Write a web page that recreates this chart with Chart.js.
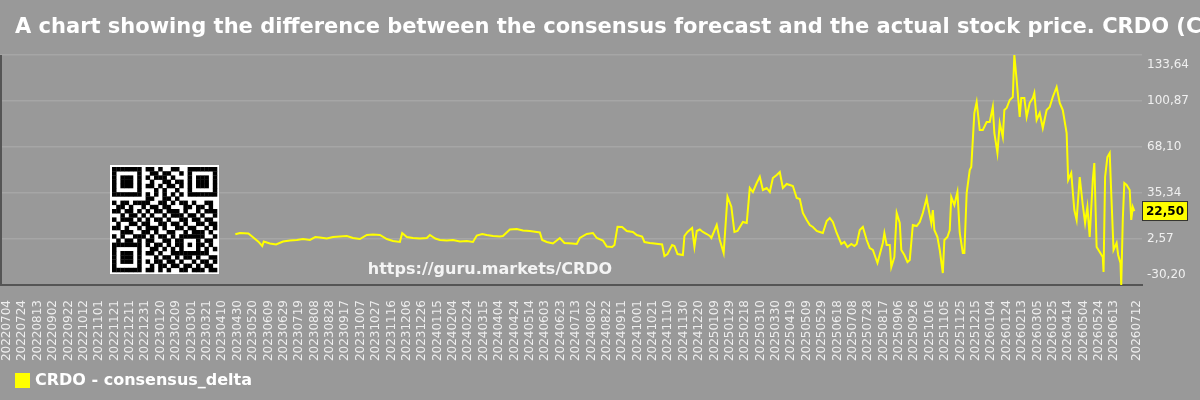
<!DOCTYPE html>
<html lang="en">
<head>
<meta charset="UTF-8">
<title>CRDO - consensus_delta</title>
<script src="https://cdn.jsdelivr.net/npm/chart.js@4.4.3/dist/chart.umd.min.js"></script>
<style>
  * { margin: 0; padding: 0; }
  body { background: #999999; width: 1200px; height: 400px; overflow: hidden; }
  #wrap { width: 1200px; height: 400px; }
</style>
</head>
<body>
<div id="wrap"><canvas id="chart" width="1200" height="400"></canvas></div>
<script>
const TITLE = 'A chart showing the difference between the consensus forecast and the actual stock price. CRDO (Credo Technology Group Holding Ltd)';
const SERIES_NAME = 'CRDO - consensus_delta';
const WATERMARK = 'https://guru.markets/CRDO';
const FONT = "'DejaVu Sans', sans-serif";

// x axis: days counted from the first tick date
const baseDate = '20220704';
const tickDates = [
  '20220704', '20220724', '20220813', '20220902', '20220922', '20221012', '20221101', '20221121',
  '20221211', '20221231', '20230120', '20230209', '20230301', '20230321', '20230410', '20230430',
  '20230520', '20230609', '20230629', '20230719', '20230808', '20230828', '20230917', '20231007',
  '20231027', '20231116', '20231206', '20231226', '20240115', '20240204', '20240224', '20240315',
  '20240404', '20240424', '20240514', '20240603', '20240623', '20240713', '20240802', '20240822',
  '20240911', '20241001', '20241021', '20241110', '20241130', '20241220', '20250109', '20250129',
  '20250218', '20250310', '20250330', '20250419', '20250509', '20250529', '20250618', '20250708',
  '20250728', '20250817', '20250906', '20250926', '20251016', '20251105', '20251125', '20251215',
  '20260104', '20260124', '20260213', '20260305', '20260325', '20260414', '20260504', '20260524',
  '20260613', '20260712'
];

const pointDays = [
  297, 303, 314, 320, 327, 332, 334, 342, 350, 359, 368, 377, 385, 394, 401, 407, 416, 424, 433, 442,
  450, 459, 468, 476, 485, 494, 502, 511, 514, 520, 528, 537, 546, 550, 557, 563, 572, 580, 589, 598,
  606, 611, 618, 624, 632, 641, 645, 654, 663, 671, 680, 689, 693, 696, 702, 710, 719, 725, 735, 741,
  745, 754, 762, 767, 775, 780, 787, 790, 794, 800, 806, 814, 819, 826, 829, 836, 842, 852, 855, 859,
  865, 868, 872, 879, 881, 885, 891, 894, 897, 901, 905, 910, 914, 916, 923, 927, 932, 937, 942, 946,
  950, 957, 962, 966, 970, 975, 979, 983, 988, 992, 996, 1001, 1005, 1009, 1014, 1018, 1022, 1027, 1031, 1035,
  1040, 1044, 1048, 1053, 1057, 1061, 1066, 1070, 1074, 1079, 1085, 1089, 1093, 1098, 1102, 1105, 1109, 1113, 1118, 1122,
  1126, 1132, 1139, 1141, 1144, 1148, 1150, 1154, 1157, 1161, 1163, 1167, 1171, 1174, 1178, 1183, 1187, 1191, 1196, 1197,
  1202, 1204, 1206, 1210, 1213, 1217, 1219, 1223, 1226, 1228, 1232, 1236, 1239, 1243, 1245, 1248, 1252, 1254, 1258, 1261,
  1265, 1269, 1274, 1278, 1282, 1284, 1288, 1291, 1295, 1297, 1300, 1304, 1308, 1310, 1313, 1317, 1319, 1323, 1326, 1330,
  1334, 1336, 1339, 1343, 1347, 1352, 1356, 1360, 1365, 1369, 1373, 1378, 1380, 1384, 1388, 1391, 1395, 1399, 1402, 1405,
  1408, 1412, 1414, 1417, 1421, 1425, 1426, 1428, 1431, 1434, 1436, 1439, 1443, 1445, 1448, 1449, 1451, 1453, 1456, 1460,
  1462, 1464, 1466
];

const deltaValues = [
  5.92, 6.84, 6.49, 3.78, 0.64, -2.42, 0.79, -0.64, -1.35, 0.79, 1.50, 1.86, 2.57, 1.86, 3.99, 3.64, 2.92, 3.99, 4.35, 4.70,
  3.28, 2.57, 5.42, 5.77, 5.42, 2.57, 1.14, 0.43, 6.84, 3.99, 3.28, 2.92, 3.28, 5.42, 2.92, 1.86, 1.50, 1.86, 0.79, 1.14,
  0.43, 5.06, 6.13, 5.42, 4.70, 4.35, 4.70, 9.33, 9.69, 8.62, 8.27, 7.55, 7.20, 1.86, 0.43, -0.64, 3.28, -0.28, -0.64, -0.99,
  3.28, 6.13, 6.84, 3.28, 1.50, -2.78, -3.13, -1.71, 11.33, 11.12, 8.27, 7.55, 5.42, 4.35, 0.43, -0.28, -0.64, -1.35, -9.54, -8.12,
  -1.71, -2.42, -8.12, -8.83, 4.70, 7.55, 10.40, -2.92, 8.27, 9.33, 7.55, 6.13, 4.70, 3.28, 12.54, 1.86, -7.41, 32.70, 25.58, 7.55,
  8.27, 14.68, 13.97, 38.90, 36.05, 42.46, 46.95, 37.47, 38.90, 36.05, 46.02, 48.16, 50.30, 38.90, 41.75, 41.03, 40.32, 31.77, 31.06, 21.09,
  16.10, 12.54, 11.12, 8.27, 7.55, 6.84, 15.39, 17.53, 14.68, 6.84, -0.99, 0.43, -3.13, -0.99, -2.42, -0.99, 8.98, 11.12, 1.86, -3.84,
  -5.27, -14.53, -0.28, 6.84, -1.71, -1.71, -17.38, -10.25, 21.09, 13.97, -5.27, -8.83, -13.82, -12.39, 12.54, 11.83, 14.68, 21.09, 31.77, 28.21,
  13.97, 23.23, 8.98, 3.99, -5.27, -21.65, 1.86, 3.99, 8.98, 32.49, 26.79, 36.05, 6.84, -7.41, -7.41, 35.34, 51.72, 53.86, 92.32, 100.16,
  80.21, 80.21, 85.91, 85.91, 96.60, 78.08, 63.83, 85.20, 75.23, 94.46, 95.89, 101.58, 103.72, 133.64, 115.83, 89.47, 103.01, 103.01, 89.47, 99.45,
  103.01, 106.57, 87.34, 92.32, 81.64, 94.46, 96.60, 103.72, 110.84, 99.45, 94.46, 78.08, 44.60, 49.58, 23.23, 16.10, 46.73, 26.79, 13.97, 25.36,
  3.99, 44.60, 56.71, -3.13, -6.69, -10.25, -20.94, 46.73, 60.98, 63.83, 35.34, -5.27, -0.28, -8.83, -14.53, -30.20, 16.10, 42.46, 41.03, 37.47,
  16.10, 25.36, 22.50
];

const yMin = -30.20;
const yMax = 133.64;
const yTickCount = 6;

function dayOf(s) {
  const t = Date.UTC(+s.slice(0, 4), +s.slice(4, 6) - 1, +s.slice(6, 8));
  const b = Date.UTC(+baseDate.slice(0, 4), +baseDate.slice(4, 6) - 1, +baseDate.slice(6, 8));
  return Math.round((t - b) / 86400000);
}
const labelByDay = {};
tickDates.forEach(d => { labelByDay[dayOf(d)] = d; });

function fmtComma(v) {
  return v.toFixed(2).replace('.', ',');
}

// little QR-like badge (decoration only)
const qrRows = [
  '1111111011010011001111111',
  '1000001001101100101000001',
  '1011101010111010001011101',
  '1011101001001101101011101',
  '1011101011010110101011101',
  '1000001000101001001000001',
  '1111111010101010101111111',
  '0000000011001101000000000',
  '1011011110011010110100110',
  '0110100101101100011011010',
  '1101101010110111010010111',
  '0010110101001011101101001',
  '1011101010110100110110110',
  '0100110110011011010011011',
  '1101001011101001101100101',
  '0011100110100110010111010',
  '1010011101011010111111001',
  '0101101011001101100010110',
  '1111111010110101101011010',
  '1000001001101010100010101',
  '1011101011010011111111100',
  '1011101000101101011010011',
  '1011101010110110100101101',
  '1000001001011011011010110',
  '1111111011010100110111011'
];

const decorPlugin = {
  id: 'decor',
  beforeDraw(chart) {
    const ctx = chart.ctx;
    ctx.save();
    ctx.fillStyle = '#999999';
    ctx.fillRect(0, 0, chart.width, chart.height);
    ctx.fillStyle = '#ffffff';
    ctx.font = 'bold 21px ' + FONT;
    ctx.textBaseline = 'alphabetic';
    ctx.textAlign = 'left';
    ctx.fillText(TITLE, 15, 33);
    ctx.restore();
  },
  beforeDatasetsDraw(chart) {
    const ctx = chart.ctx;
    const a = chart.chartArea;
    ctx.save();
    // qr badge
    ctx.fillStyle = '#ffffff';
    ctx.fillRect(110, 165, 109, 109);
    ctx.fillStyle = '#000000';
    const m = 4.2;
    qrRows.forEach((row, r) => {
      for (let c = 0; c < row.length; c++) {
        if (row[c] === '1') ctx.fillRect(112 + c * m, 167 + r * m, m + 0.3, m + 0.3);
      }
    });
    // watermark
    ctx.fillStyle = '#f4f4f4';
    ctx.font = 'bold 16px ' + FONT;
    ctx.textAlign = 'center';
    ctx.textBaseline = 'middle';
    ctx.fillText(WATERMARK, 490, 270);
    // left frame line
    ctx.strokeStyle = '#555555';
    ctx.lineWidth = 2;
    ctx.beginPath();
    ctx.moveTo(a.left + 1, a.top);
    ctx.lineTo(a.left + 1, a.bottom);
    ctx.stroke();
    ctx.restore();
  },
  afterDraw(chart) {
    const ctx = chart.ctx;
    const a = chart.chartArea;
    const xs = chart.scales.x;
    const ys = chart.scales.y;
    ctx.save();
    // x tick labels, rotated, hanging under the axis
    ctx.fillStyle = '#eeeeee';
    ctx.font = '12px ' + FONT;
    ctx.textAlign = 'right';
    ctx.textBaseline = 'middle';
    xs.ticks.forEach(t => {
      const px = xs.getPixelForValue(t.value);
      ctx.save();
      ctx.translate(px, a.bottom + 15);
      ctx.rotate(-Math.PI / 2);
      ctx.fillText(labelByDay[t.value] || '', 0, 0);
      ctx.restore();
    });
    // y tick labels, kept inside the plot band
    ctx.fillStyle = '#f0f0f0';
    ctx.textAlign = 'left';
    ys.ticks.forEach(t => {
      let py = ys.getPixelForValue(t.value);
      py = Math.min(Math.max(py, a.top + 10), a.bottom - 10);
      ctx.fillText(fmtComma(t.value), a.right + 5, py);
    });
    // last value badge
    const last = deltaValues[deltaValues.length - 1];
    const ly = ys.getPixelForValue(last);
    ctx.fillStyle = '#ffff00';
    ctx.fillRect(a.right, ly - 10, 46, 20);
    ctx.strokeStyle = '#333333';
    ctx.lineWidth = 1;
    ctx.strokeRect(a.right + 0.5, ly - 9.5, 45, 19);
    ctx.fillStyle = '#000000';
    ctx.font = 'bold 12px ' + FONT;
    ctx.textAlign = 'center';
    ctx.fillText(fmtComma(last), a.right + 23, ly + 0.5);
    // legend
    ctx.fillStyle = '#ffff00';
    ctx.fillRect(15, 373, 15, 15);
    ctx.fillStyle = '#ffffff';
    ctx.font = 'bold 16px ' + FONT;
    ctx.textAlign = 'left';
    ctx.fillText(SERIES_NAME, 35, 381);
    ctx.restore();
  }
};

new Chart(document.getElementById('chart'), {
  type: 'line',
  data: {
    datasets: [{
      label: SERIES_NAME,
      data: pointDays.map((d, i) => ({ x: d, y: deltaValues[i] })),
      borderColor: '#ffff00',
      borderWidth: 2,
      pointRadius: 0,
      tension: 0,
      fill: false
    }]
  },
  options: {
    responsive: false,
    animation: false,
    devicePixelRatio: 1,
    layout: { padding: { top: 55, left: 0, right: 0, bottom: 0 } },
    plugins: {
      legend: { display: false },
      title: { display: false },
      tooltip: { enabled: false }
    },
    scales: {
      x: {
        type: 'linear',
        min: -9,
        max: 1476,
        afterBuildTicks: s => { s.ticks = tickDates.map(d => ({ value: dayOf(d) })); },
        afterFit: s => { s.height = 115; s.paddingLeft = 0; s.paddingRight = 0; },
        ticks: { display: false },
        grid: { display: false },
        border: { color: '#555555', width: 2 }
      },
      y: {
        type: 'linear',
        position: 'right',
        min: yMin,
        max: yMax,
        afterBuildTicks: s => {
          const step = (yMax - yMin) / (yTickCount - 1);
          s.ticks = [];
          for (let i = 0; i < yTickCount; i++) s.ticks.push({ value: yMin + i * step });
        },
        afterFit: s => { s.width = 58; },
        ticks: { display: false },
        grid: { color: '#a6a6a6', lineWidth: 1.5, drawTicks: false },
        border: { display: false }
      }
    }
  },
  plugins: [decorPlugin]
});
</script>
</body>
</html>
